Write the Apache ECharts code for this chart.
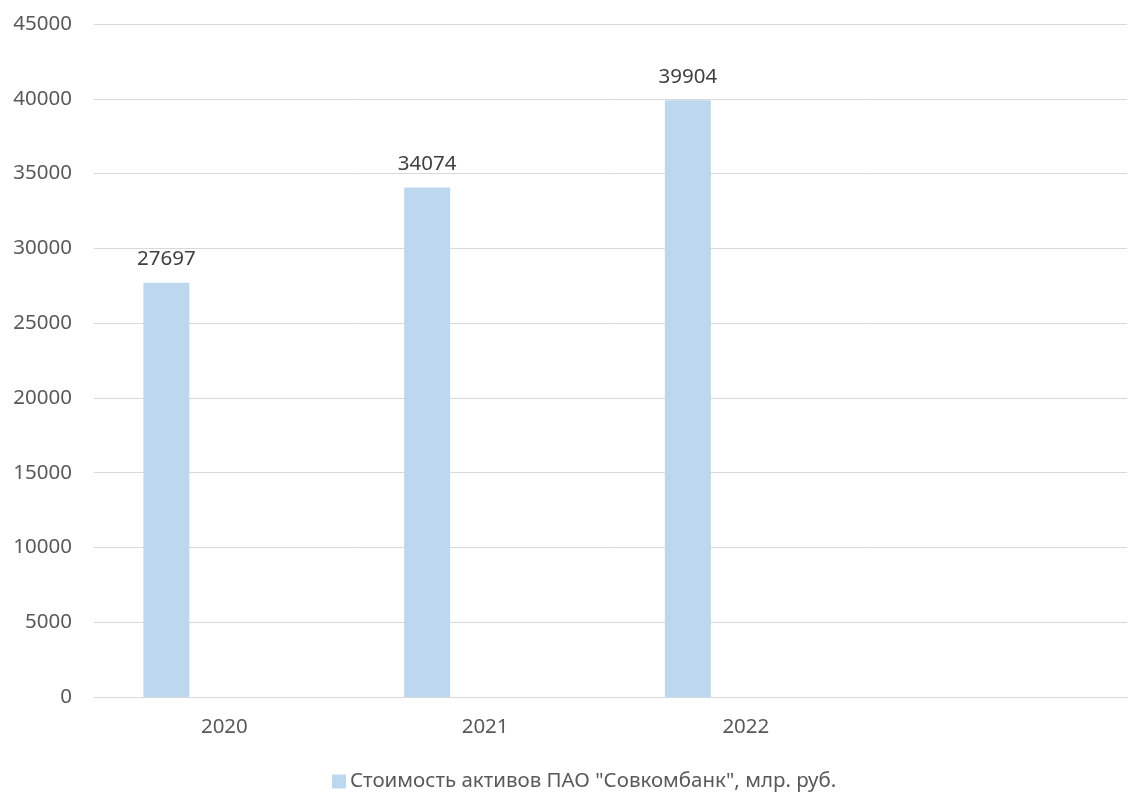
<!DOCTYPE html>
<html>
<head>
<meta charset="utf-8">
<script src="https://cdn.jsdelivr.net/npm/echarts@6/dist/echarts.min.js"></script>
<style>html,body{margin:0;padding:0;background:#fff}#c{width:1130px;height:792px}</style>
</head>
<body>
<div id="c"></div>
<script>
const categories = ["2020", "2021", "2022"];
const assets = [27697, 34074, 39904];
const seriesName = 'Стоимость активов ПАО "Совкомбанк", млр. руб.';
const yTicks = { min: 0, max: 45000, interval: 5000 };

// bars placed at category index positions
const assetPoints = assets.map((v, i) => [i, v]);
const emptyPoints = categories.map((c, i) => [i, null]);

const chart = echarts.init(document.getElementById('c'), null, { renderer: 'canvas' });
const font = '"Noto Sans", "Open Sans", sans-serif';
chart.setOption({
  animation: false,
  backgroundColor: '#ffffff',
  textStyle: { fontFamily: font },
  grid: { left: 94, top: 24, right: 0, bottom: 95, containLabel: false },
  legend: {
    data: [seriesName],
    left: 327, top: 766,
    itemWidth: 14, itemHeight: 14, itemGap: 10,
    icon: 'rect',
    textStyle: { fontFamily: font, fontSize: 20.5, color: '#595959', padding: [0, 0, 0, -1] }
  },
  xAxis: {
    type: 'value',
    min: -0.5, max: 3.4618, interval: 0.5,
    splitLine: { show: false },
    axisLine: { onZero: true, lineStyle: { color: '#d9d9d9', width: 1 } },
    axisTick: { show: false },
    axisLabel: {
      color: '#595959', fontSize: 20.5, margin: 20, fontFamily: font,
      showMinLabel: true, showMaxLabel: true,
      formatter: v => (Number.isInteger(v) && categories[v] !== undefined) ? categories[v] : ''
    }
  },
  yAxis: {
    type: 'value',
    min: yTicks.min, max: yTicks.max, interval: yTicks.interval,
    axisLine: { show: false },
    axisTick: { show: false },
    splitLine: { lineStyle: { color: '#d9d9d9', width: 1 } },
    axisLabel: { color: '#595959', fontSize: 20.5, margin: 22, fontFamily: font, formatter: v => String(v) }
  },
  series: [
    {
      name: seriesName,
      type: 'bar',
      data: assetPoints,
      barWidth: 46,
      barGap: '152%',
      itemStyle: { color: '#BDD7EE' },
      label: { show: true, position: 'top', distance: 13, color: '#404040', fontSize: 20.5, fontFamily: font,
               formatter: p => String(p.value[1]) }
    },
    {
      name: '_empty',
      type: 'bar',
      data: emptyPoints,
      barWidth: 46,
      itemStyle: { color: '#ED7D31' }
    }
  ]
});
</script>
</body>
</html>
